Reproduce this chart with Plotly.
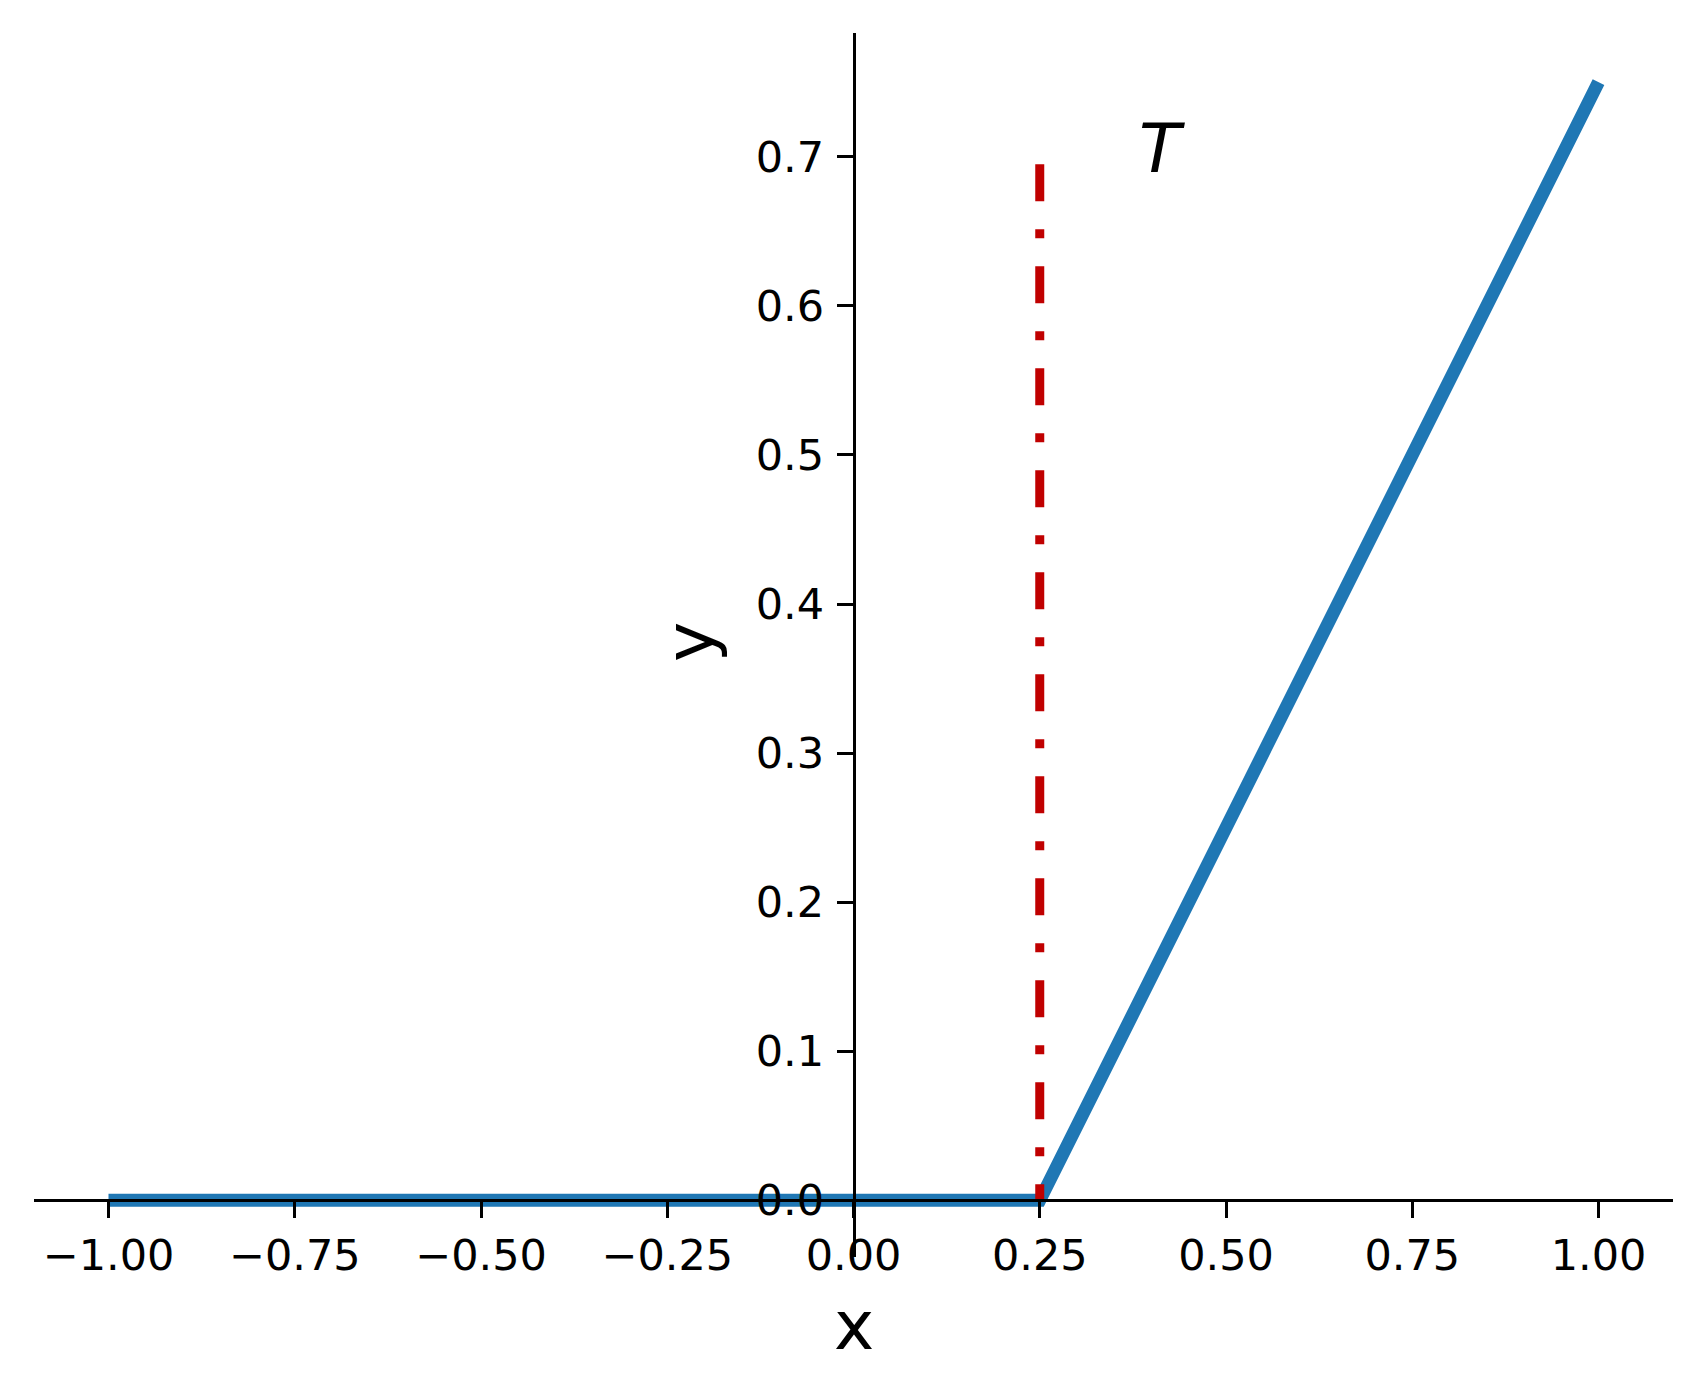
import plotly.graph_objects as go

# Data
x_vals = [-1.0, 0.25, 1.0]
y_vals = [0.0, 0.0, 0.75]
threshold_x = [0.25, 0.25]
threshold_y = [0.695, 0.0]

x_tickvals = [-1.0, -0.75, -0.5, -0.25, 0.0, 0.25, 0.5, 0.75, 1.0]
x_ticktext = ["\u22121.00", "\u22120.75", "\u22120.50", "\u22120.25", "0.00", "0.25", "0.50", "0.75", "1.00"]
y_tickvals = [0.0, 0.1, 0.2, 0.3, 0.4, 0.5, 0.6, 0.7]
y_ticktext = ["0.0", "0.1", "0.2", "0.3", "0.4", "0.5", "0.6", "0.7"]

x_range = [-1.1, 1.1]
y_range = [-0.038, 0.783]

fig = go.Figure()
fig.add_trace(go.Scatter(x=x_vals, y=y_vals, mode="lines",
                         line=dict(color="#1f77b4", width=13),
                         showlegend=False, hoverinfo="skip"))
fig.add_trace(go.Scatter(x=threshold_x, y=threshold_y, mode="lines",
                         line=dict(color="#C00000", width=9, dash="37px,28px,9px,28px"),
                         showlegend=False, hoverinfo="skip"))

font_family = "DejaVu Sans"
tick_font = dict(family=font_family, size=43, color="black")

x_pos = (0 - y_range[0]) / (y_range[1] - y_range[0])
y_pos = (0 - x_range[0]) / (x_range[1] - x_range[0])

fig.update_layout(
    width=1695, height=1385,
    margin=dict(l=26, r=30, t=25, b=136),
    plot_bgcolor="white", paper_bgcolor="white",
    xaxis=dict(range=x_range, showgrid=False, zeroline=False,
               showline=True, linecolor="black", linewidth=2.5,
               ticks="outside", ticklen=16, tickwidth=2.5, tickcolor="black",
               tickvals=x_tickvals, ticktext=x_ticktext, tickfont=tick_font,
               anchor="free", position=x_pos),
    yaxis=dict(range=y_range, showgrid=False, zeroline=False,
               showline=True, linecolor="black", linewidth=2.5,
               ticks="outside", ticklen=16, tickwidth=2.5, tickcolor="black",
               tickvals=y_tickvals, ticktext=y_ticktext, tickfont=tick_font,
               ticklabelstandoff=4,
               anchor="free", position=y_pos),
    annotations=[
        dict(text="x", xref="paper", yref="paper", x=0.5, y=-0.0558, showarrow=False,
             xanchor="center", yanchor="middle",
             font=dict(family=font_family, size=68, color="black")),
        dict(text="y", xref="x", yref="y", x=-0.22, y=0.3743, showarrow=False,
             xanchor="center", yanchor="middle", textangle=-90,
             font=dict(family=font_family, size=68, color="black")),
        dict(text="<i>T</i>", xref="x", yref="y", x=0.414, y=0.7056, showarrow=False,
             xanchor="center", yanchor="middle",
             font=dict(family=font_family, size=68, color="black")),
    ],
)

fig.write_html("out.html")
